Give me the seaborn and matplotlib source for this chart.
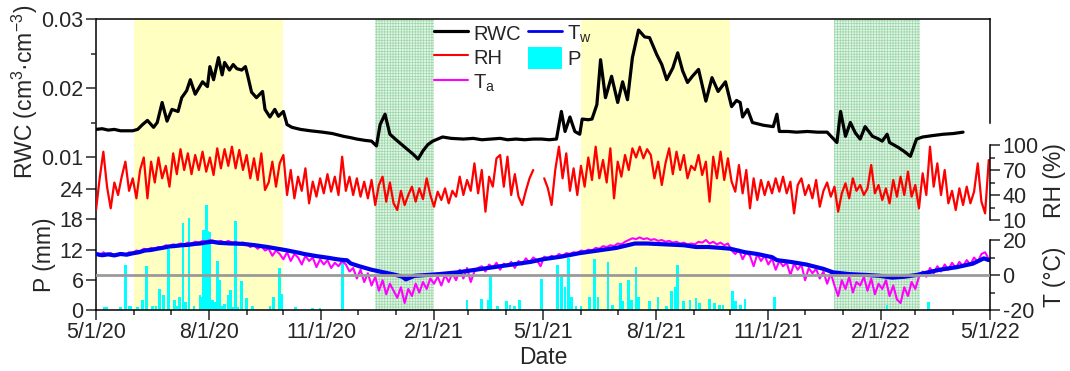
import numpy as np
import pandas as pd
import matplotlib
matplotlib.use("Agg")
import matplotlib.pyplot as plt
import matplotlib.dates as mdates
from matplotlib.lines import Line2D
from matplotlib.patches import Patch
from matplotlib.ticker import FixedLocator
import seaborn as sns

# ---------------- data ----------------
START = pd.Timestamp("2020-05-01")
END = pd.Timestamp("2022-05-01")

# RWC (cm3 cm-3), days since 2020-05-01
rwc_day = [0, 5, 10, 15, 20, 25, 30, 34, 38, 42,
           47, 50, 54, 58, 62, 67, 70, 74, 77, 81,
           84, 87, 91, 93, 96, 100, 103, 105, 109, 112,
           115, 119, 122, 124, 127, 131, 136, 138, 142, 146,
           149, 153, 156, 160, 167, 175, 185, 193, 202, 208,
           213, 220, 225, 229, 232, 236, 240, 245, 251, 255,
           259, 263, 267, 271, 275, 283, 290, 300, 308, 315,
           322, 330, 336, 343, 350, 357, 364, 370, 376, 380,
           383, 387, 391, 395, 397, 402, 405, 409, 412, 416,
           421, 426, 430, 434, 438, 443, 448, 452, 458, 462,
           466, 471, 475, 479, 483, 487, 492, 498, 503, 508,
           514, 519, 523, 526, 528, 532, 536, 545, 553, 556,
           558, 565, 572, 581, 589, 597, 605, 608, 612, 616,
           620, 624, 628, 634, 638, 642, 646, 648, 655, 660,
           665, 670, 675, 683, 692, 700, 708]
rwc_val = [.0140, .0141, .0139, .0140, .0138, .0138, .0138, .0140, .0147, .0153,
           .0143, .0150, .0179, .0152, .0169, .0166, .0186, .0196, .0212, .0191,
           .0200, .0209, .0202, .0231, .0212, .0244, .0219, .0237, .0226, .0234,
           .0228, .0226, .0231, .0217, .0194, .0186, .0195, .0169, .0158, .0169,
           .0159, .0166, .0147, .0143, .0140, .0138, .0136, .0134, .0130, .0128,
           .0126, .0124, .0123, .0116, .0147, .0162, .0133, .0125, .0116, .0110,
           .0104, .0097, .0109, .0118, .0123, .0129, .0127, .0126, .0127, .0125,
           .0126, .0127, .0125, .0126, .0125, .0126, .0126, .0125, .0126, .0166,
           .0137, .0158, .0137, .0133, .0155, .0154, .0155, .0176, .0241, .0186,
           .0217, .0179, .0209, .0183, .0244, .0284, .0274, .0273, .0248, .0234,
           .0212, .0229, .0251, .0225, .0208, .0217, .0227, .0181, .0215, .0195,
           .0209, .0173, .0182, .0179, .0158, .0169, .0150, .0146, .0144, .0162,
           .0137, .0137, .0136, .0137, .0136, .0136, .0121, .0166, .0130, .0150,
           .0135, .0126, .0144, .0130, .0127, .0123, .0133, .0121, .0114, .0108,
           .0101, .0126, .0129, .0131, .0133, .0134, .0136]

# RH (%), one value every 3 days from 2020-05-01
rh_val = [22, 60, 92, 50, 24, 55, 40, 62, 80, 45,
          60, 36, 70, 85, 36, 80, 55, 85, 60, 75,
          50, 90, 65, 95, 70, 90, 65, 88, 70, 92,
          68, 85, 64, 96, 72, 95, 75, 98, 72, 94,
          70, 88, 60, 84, 58, 90, 46, 55, 80, 50,
          78, 88, 40, 70, 36, 62, 45, 72, 30, 56,
          38, 60, 42, 65, 44, 62, 40, 86, 45, 62,
          40, 60, 38, 56, 36, 58, 28, 52, 62, 32,
          55, 30, 22, 45, 28, 40, 50, 32, 48, 35,
          60, 40, 26, 44, 34, 48, 30, 45, 38, 62,
          40, 58, 45, 78, 42, 70, 20, 62, 50, 84,
          88, 50, 86, 40, 65, 38, 28, 45, 60, 70,
          np.nan, np.nan, 60, 48, 28, 70, 98, 60, 90, 45,
          72, 40, 75, 50, 85, 58, 98, 60, 82, 55,
          96, 36, 80, 62, 88, 70, 96, 85, 98, 84,
          95, 88, 60, 80, 52, 78, 96, 65, 92, 70,
          88, 60, 75, 70, 88, 64, 80, 32, 86, 60,
          92, 58, 84, 56, 44, 76, 42, 70, 24, 60,
          34, 58, 40, 56, 42, 60, 44, 62, 42, 56,
          18, 52, 60, 40, 52, 36, 58, 26, 45, 55,
          38, 50, 20, 42, 54, 36, 60, 45, 52, 40,
          48, 76, 42, 52, 34, 48, 30, 58, 38, 62,
          40, 68, 38, 52, 24, 66, 40, 98, 50, 78,
          40, 70, 30, 45, 22, 48, 28, 50, 30, 44,
          78, 32, 18, 82]

# Air temperature Ta (degC), one value every 3 days
ta_val = [12, 11, 13, 11.5, 12.5, 11, 12, 12.5, 11.5, 13,
          12.5, 14, 13.5, 15, 14.5, 15.5, 15, 16, 15.5, 17,
          16.5, 17.5, 17, 18, 17.5, 18.5, 18, 19, 18.5, 19.5,
          19, 20, 19.5, 19, 19.5, 18.5, 19.5, 18.5, 19, 18,
          18.5, 17.5, 16, 17, 15, 16.5, 14, 15, 11, 14,
          12, 9, 13, 8, 12, 10, 6, 11, 8, 10,
          4.5, 9, 6, 8.5, 4, 7, 5, 8, 6, 2,
          4, -2, 3, -4, 1, -6, -1, -9, -3, -11,
          -5, -9, -13, -7, -16, -8, -12, -5, -10, -4,
          -8, -2, -5, -1, -6, 0, -4, 1, -3, 3,
          -2, 4, -4, 2, 4, 5, 2, 6, 4, 7,
          3, 6.5, 5, 7.5, 4, 8, 6, 9.5, 7, 10,
          8.5, 5, 10.5, 9.5, 11, 10, 12, 11, 12.5, 12,
          13, 12.5, 14, 13.5, 14.5, 14, 15.5, 15, 16.5, 16,
          17, 16.5, 18, 17.5, 19, 20, 21, 20.5, 21.5, 20.5,
          21, 20, 20.5, 19.5, 20, 19, 19.5, 18.5, 19, 18,
          18.5, 17.5, 18, 17.5, 19, 18.5, 20, 18, 19, 17.5,
          18.5, 17, 18, 14, 12, 14.5, 9, 13, 11, 5,
          12, 8, 11, 6, 9.5, 3, 8, 5, 7, 0,
          6.5, 3, 6, -3, 4, 1, 3.5, -2, 2, -5,
          1, -6, -12, -3, -8, -1, -10, -4, -6, -1,
          -9, -2, -11, -5, -8, -3, -12, -6, -14, -16,
          -7, -12, -4, -8, -1, 2, -1, 4, 1, 5,
          2, 6, 3, 7, 4, 7.5, 5, 8.5, 6, 10,
          7.5, 12, 13, 9]

# Water temperature Tw (degC)
tw_day = [0, 5, 10, 15, 20, 25, 30, 35, 40, 45,
          50, 55, 60, 65, 70, 75, 80, 85, 90, 95,
          100, 105, 110, 115, 120, 125, 130, 135, 140, 145,
          150, 155, 160, 165, 170, 175, 180, 185, 190, 195,
          200, 205, 208, 215, 225, 235, 245, 250, 253, 260,
          270, 280, 295, 310, 325, 340, 355, 365, 380, 395,
          410, 425, 440, 450, 465, 480, 490, 500, 510, 518,
          530, 540, 552, 556, 567, 580, 594, 602, 615, 630,
          640, 650, 660, 670, 676, 689, 703, 716, 725, 729]
tw_val = [12.0, 11.3, 11.8, 11.2, 12.0, 11.6, 12.4, 13.0, 14.0, 14.3,
          15.0, 15.6, 16.3, 16.6, 17.0, 17.2, 17.7, 18.0, 18.6, 19.0,
          18.4, 18.2, 18.0, 17.9, 17.8, 17.4, 17.0, 16.5, 16.0, 15.4,
          14.8, 14.2, 13.5, 12.8, 12.0, 11.4, 10.8, 10.3, 9.8, 9.2,
          8.7, 8.4, 6.6, 5.0, 3.0, 1.5, 0.0, -1.0, -2.5, -0.5,
          0.0, 0.5, 1.5, 3.0, 4.5, 6.0, 7.5, 9.0, 10.5, 12.5,
          14.0, 15.5, 18.0, 18.0, 17.5, 17.0, 16.0, 16.0, 15.5, 15.0,
          13.0, 12.0, 10.2, 8.5, 7.5, 6.0, 3.5, 1.5, 0.5, 0.0,
          -0.5, -1.5, -1.0, 0.0, 1.0, 3.0, 4.5, 6.5, 9.5, 8.5]

# Precipitation P (mm)
p_day = [7, 9, 20, 24, 27, 28, 34, 38, 41, 46,
         49, 52, 55, 59, 64, 66, 68, 71, 73, 76,
         80, 85, 86, 88, 89, 90, 91, 92, 93, 95,
         97, 99, 101, 103, 105, 108, 110, 112, 114, 116,
         119, 123, 128, 142, 145, 150, 152, 163, 177, 183,
         201, 303, 315, 320, 322, 328, 335, 338, 342, 346,
         364, 377, 380, 383, 386, 388, 392, 396, 403, 407,
         410, 418, 422, 428, 430, 435, 437, 441, 443, 452,
         459, 466, 470, 473, 475, 480, 485, 490, 493, 501,
         505, 509, 512, 520, 522, 526, 530, 554, 646, 680]
p_val = [0.5, 0.5, 0.5, 9.0, 0.8, 0.8, 0.5, 2.0, 8.7, 0.7,
         0.8, 4.1, 3.0, 12.1, 2.0, 0.7, 2.6, 17.3, 1.6, 18.3,
         0.8, 3.0, 2.5, 15.9, 14.0, 20.8, 15.6, 12.0, 15.4, 2.0,
         1.5, 9.7, 6.0, 0.8, 1.2, 3.0, 4.0, 0.6, 17.7, 0.5,
         5.8, 2.3, 0.8, 0.7, 2.6, 8.3, 3.1, 0.5, 0.3, 0.3,
         9.7, 2.0, 2.1, 2.0, 7.0, 0.8, 1.7, 0.9, 0.7, 2.0,
         6.1, 9.0, 6.6, 4.6, 10.4, 2.6, 0.7, 0.7, 2.6, 10.2,
         2.6, 9.6, 0.9, 5.3, 1.7, 6.0, 2.0, 8.6, 2.6, 1.7,
         2.6, 0.7, 3.8, 4.6, 9.0, 1.7, 2.0, 2.3, 1.3, 2.1,
         1.3, 0.9, 0.9, 3.8, 1.7, 0.9, 2.1, 2.5, 0.9, 1.5]

summer_periods = [("2020-06-01", "2020-10-01"), ("2021-06-01", "2021-10-01")]
winter_periods = [("2020-12-15", "2021-02-01"), ("2021-12-25", "2022-03-05")]

# ---------------- frames ----------------
rwc_df = pd.DataFrame({"date": START + pd.to_timedelta(rwc_day, unit="D"), "v": rwc_val})
rh_dates = pd.date_range(START, periods=len(rh_val), freq="3D")
rh_arr = np.array(rh_val, dtype=float)
seg = np.cumsum(np.isnan(rh_arr))
rh_df = pd.DataFrame({"date": rh_dates, "v": rh_arr, "seg": seg}).dropna()
ta_df = pd.DataFrame({"date": pd.date_range(START, periods=len(ta_val), freq="3D"), "v": ta_val})
tw_df = pd.DataFrame({"date": START + pd.to_timedelta(tw_day, unit="D"), "v": tw_val})
p_dates = START + pd.to_timedelta(p_day, unit="D")

# ---------------- style ----------------
sns.set_style("white")
plt.rcParams["font.family"] = ["Liberation Sans", "DejaVu Sans"]
plt.rcParams["mathtext.default"] = "regular"
plt.rcParams["axes.unicode_minus"] = False
plt.rcParams["hatch.linewidth"] = 0.5
TICK_FS = 15.5
LAB_FS = 16.5

W, H = 1070, 371
fig = plt.figure(figsize=(W / 100, H / 100), dpi=100)
L, R, T, B = 96, 990, 19, 310
rect = [L / W, 1 - B / H, (R - L) / W, (B - T) / H]

def py(y):
    return 1 - y / H

# base axes: precipitation + frame + date axis
ax = fig.add_axes(rect)
ax.set_facecolor("white")
for s, e in summer_periods:
    ax.axvspan(pd.Timestamp(s), pd.Timestamp(e), facecolor="#ffffc2", edgecolor="none", zorder=0)
for s, e in winter_periods:
    ax.axvspan(pd.Timestamp(s), pd.Timestamp(e), facecolor="#e2f4e5", edgecolor="#9bd8aa",
               hatch="++++++", linewidth=0, zorder=0)
ax.bar(p_dates, p_val, width=2.2, color="#00ffff", linewidth=0, zorder=2)
p_top = (B - T) * 24 / (B - 189)
ax.set_ylim(0, p_top)
ax.set_xlim(START, END)
ax.set_yticks([0, 6, 12, 18, 24])
ax.xaxis.set_major_locator(mdates.MonthLocator(bymonth=[2, 5, 8, 11]))
ax.xaxis.set_minor_locator(mdates.MonthLocator())
ax.xaxis.set_major_formatter(mdates.DateFormatter("%-m/%-d/%y"))
ax.tick_params(axis="both", which="major", direction="out", length=7, width=1.1,
               labelsize=TICK_FS, left=True, bottom=True, right=False, top=False, pad=2)
ax.tick_params(axis="x", which="minor", direction="out", length=3.5, width=1.1, bottom=True)
for sp in ax.spines.values():
    sp.set_linewidth(1.1)
    sp.set_color("black")
ax.spines["right"].set_bounds((B - 123) * 24 / (B - 189), p_top)

def overlay():
    a = fig.add_axes(rect, sharex=ax, facecolor="none")
    for sp in a.spines.values():
        sp.set_visible(False)
    a.tick_params(axis="x", which="both", bottom=False, top=False, labelbottom=False)
    a.grid(False)
    return a

# RH axis (right, upper-middle)
ax_rh = overlay()
rh_lo = 10 - (B - 220) * 1.2
rh_hi = 100 + (145 - T) * 1.2
ax_rh.set_ylim(rh_lo, rh_hi)
sns.lineplot(data=rh_df, x="date", y="v", units="seg", estimator=None, ax=ax_rh,
             color="#ff0000", linewidth=1.6)
ax_rh.yaxis.tick_right()
ax_rh.spines["right"].set_visible(True)
ax_rh.spines["right"].set_linewidth(1.1)
ax_rh.spines["right"].set_color("black")
ax_rh.spines["right"].set_bounds(10, 100)
ax_rh.set_yticks([10, 40, 70, 100])
ax_rh.yaxis.set_minor_locator(FixedLocator([25, 55, 85]))
ax_rh.tick_params(axis="y", which="major", direction="out", length=7, width=1.1,
                  labelsize=TICK_FS, right=True, left=False, pad=2)
ax_rh.tick_params(axis="y", which="minor", direction="out", length=3.5, width=1.1, right=True, left=False)

# Temperature axis (right, lower)
ax_t = overlay()
t_lo = -20
t_hi = 20 + (240 - T) * 40 / 70
ax_t.set_ylim(t_lo, t_hi)
sns.lineplot(data=ta_df, x="date", y="v", estimator=None, ax=ax_t, color="#ff00ff", linewidth=1.5)
sns.lineplot(data=tw_df, x="date", y="v", estimator=None, ax=ax_t, color="#0000ee", linewidth=3.0)
ax_t.axhline(0, color="#9a9a9a", linewidth=2.0, zorder=5)
ax_t.yaxis.tick_right()
ax_t.spines["right"].set_visible(True)
ax_t.spines["right"].set_linewidth(1.1)
ax_t.spines["right"].set_color("black")
ax_t.spines["right"].set_bounds(-20, 20)
ax_t.set_yticks([-20, 0, 20])
ax_t.yaxis.set_minor_locator(FixedLocator([-10, 10]))
ax_t.tick_params(axis="y", which="major", direction="out", length=7, width=1.1,
                 labelsize=TICK_FS, right=True, left=False, pad=2)
ax_t.tick_params(axis="y", which="minor", direction="out", length=3.5, width=1.1, right=True, left=False)

# RWC axis (left, top)
ax_w = overlay()
w_per_px = 0.01 / (158 - 89)
ax_w.set_ylim(0.03 - (B - T) * w_per_px, 0.03)
sns.lineplot(data=rwc_df, x="date", y="v", estimator=None, ax=ax_w, color="black", linewidth=2.3)
ax_w.set_yticks([0.01, 0.02, 0.03])
ax_w.set_yticklabels(["0.01", "0.02", "0.03"])
ax_w.yaxis.set_minor_locator(FixedLocator([0.015, 0.025]))
ax_w.tick_params(axis="y", which="major", direction="out", length=7, width=1.1,
                 labelsize=TICK_FS, left=True, right=False, pad=2)
ax_w.tick_params(axis="y", which="minor", direction="out", length=3.5, width=1.1, left=True)

for a in (ax, ax_rh, ax_t, ax_w):
    a.set_xlabel("")
    a.set_ylabel("")
    a.set_xlim(START, END)

# axis labels
fig.text(25 / W, py(92), "RWC (cm$^3$·cm$^{-3}$)", rotation=90, ha="center", va="center", fontsize=LAB_FS)
fig.text(45 / W, py(255), "P (mm)", rotation=90, ha="center", va="center", fontsize=LAB_FS)
fig.text(1055 / W, py(181), "RH (%)", rotation=90, ha="center", va="center", fontsize=LAB_FS)
fig.text(1055 / W, py(277), "T (°C)", rotation=90, ha="center", va="center", fontsize=LAB_FS)
fig.text(543 / W, py(358), "Date", ha="center", va="center", fontsize=LAB_FS)

# legend
handles = [Line2D([], [], color="black", lw=2.3),
           Line2D([], [], color="#ff0000", lw=1.5),
           Line2D([], [], color="#ff00ff", lw=1.5),
           Line2D([], [], color="#0000ee", lw=2.0),
           Patch(facecolor="#00ffff", edgecolor="none")]
labels = ["RWC", "RH", "T$_a$", "T$_w$", "P"]
ax_w.legend(handles, labels, ncol=2, loc="upper left",
            bbox_to_anchor=(434 / W, py(22)), bbox_transform=fig.transFigure,
            frameon=False, fontsize=14.5, handlelength=1.7, handleheight=1.3,
            handletextpad=0.25, columnspacing=0.35, labelspacing=0.12, borderpad=0,
            borderaxespad=0)

fig.savefig("out.png", dpi=100)
